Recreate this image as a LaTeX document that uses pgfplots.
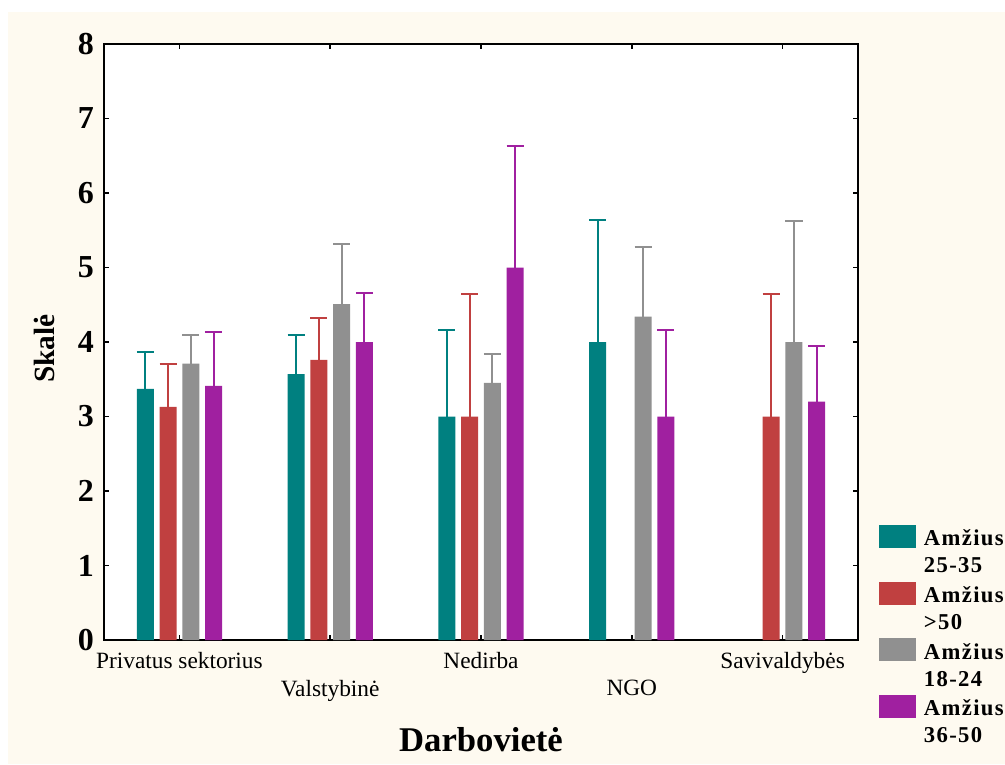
\documentclass[border=0pt]{standalone}
\usepackage{fontspec}
\setmainfont{Liberation Serif}
\newfontfamily\legfont[LetterSpace=6]{Liberation Serif}
\usepackage{pgfplots}
\pgfplotsset{compat=1.18}

\definecolor{bgcream}{HTML}{FEFAF0}
\definecolor{cteal}{HTML}{008080}
\definecolor{cred}{HTML}{C04040}
\definecolor{cgray}{HTML}{909090}
\definecolor{cpurple}{HTML}{A020A0}

\pgfplotsset{
  errbar/.style={
    draw=none, fill=#1,
    error bars/.cd,
      y dir=plus, y explicit,
      error bar style={#1, line width=1.5pt},
      error mark options={#1, rotate=90, mark size=6.4pt, line width=1.5pt},
  },
}

\begin{document}
\begin{tikzpicture}
\path[use as bounding box] (-78pt,-93pt) rectangle (675.75pt,480pt);
\fill[white] (-78pt,-93pt) rectangle (675.75pt,480pt);
\fill[bgcream] (-72pt,-93pt) rectangle (675.75pt,471pt);
\begin{axis}[
  at={(0pt,0pt)}, anchor=south west,
  scale only axis, width=565.5pt, height=447pt,
  axis background/.style={fill=white},
  axis line style={line width=1.6pt},
  ybar=4.3pt, bar width=12.75pt,
  xmin=-0.5, xmax=4.5, ymin=0, ymax=8,
  xtick={0,2,4},
  xticklabels={Privatus sektorius, Nedirba, Savivaldybės},
  extra x ticks={1,3},
  extra x tick labels={Valstybinė, NGO},
  extra x tick style={tick label style={yshift=-20.5pt}},
  ytick={0,...,8},
  tick align=inside,
  major tick length=3.75pt,
  tick style={line width=1.2pt, black},
  xtick pos=both, ytick pos=both,
  /pgf/number format/assume math mode=true,
  xticklabel style={font=\fontsize{17.5}{20}\selectfont, yshift=-6pt},
  yticklabel style={font=\fontsize{24}{24}\selectfont\bfseries, xshift=-4pt},
  ylabel={Skalė},
  ylabel style={font=\fontsize{22}{22}\selectfont\bfseries,
    at={(axis description cs:-0.0783,0.489)}, anchor=center, rotate=0},
  xlabel={Darbovietė},
  xlabel style={font=\fontsize{26}{26}\selectfont\bfseries,
    at={(axis description cs:0.5,0)}, anchor=north, yshift=-62pt},
  legend style={
    at={(axis description cs:1,0)}, anchor=north west,
    xshift=15.75pt, yshift=86.5pt,
    draw=none, fill=none, inner sep=0pt,
    font=\legfont\fontsize{17}{20.25}\selectfont\bfseries,
    cells={align=left, anchor=base west},
    row sep=3pt, column sep=3.75pt,
  },
  legend image code/.code={\fill[#1] (0pt,18.75pt) rectangle (27.75pt,36pt);},
]
% age 25-35
\addplot[errbar=cteal] coordinates {
  (0,3.37) +- (0,0.49)
  (1,3.57) +- (0,0.53)
  (2,3.00) +- (0,1.16)
  (3,4.00) +- (0,1.64)
};
\addlegendentry{Amžius\\25-35}
% age over 50
\addplot[errbar=cred] coordinates {
  (0,3.13) +- (0,0.57)
  (1,3.76) +- (0,0.56)
  (2,3.00) +- (0,1.64)
  (4,3.00) +- (0,1.64)
};
\addlegendentry{Amžius\\>50}
% age 18-24
\addplot[errbar=cgray] coordinates {
  (0,3.71) +- (0,0.39)
  (1,4.51) +- (0,0.81)
  (2,3.45) +- (0,0.39)
  (3,4.34) +- (0,0.94)
  (4,4.00) +- (0,1.63)
};
\addlegendentry{Amžius\\18-24}
% age 36-50
\addplot[errbar=cpurple] coordinates {
  (0,3.41) +- (0,0.72)
  (1,4.00) +- (0,0.66)
  (2,5.00) +- (0,1.63)
  (3,3.00) +- (0,1.16)
  (4,3.20) +- (0,0.74)
};
\addlegendentry{Amžius\\36-50}
\end{axis}
\end{tikzpicture}
\end{document}
